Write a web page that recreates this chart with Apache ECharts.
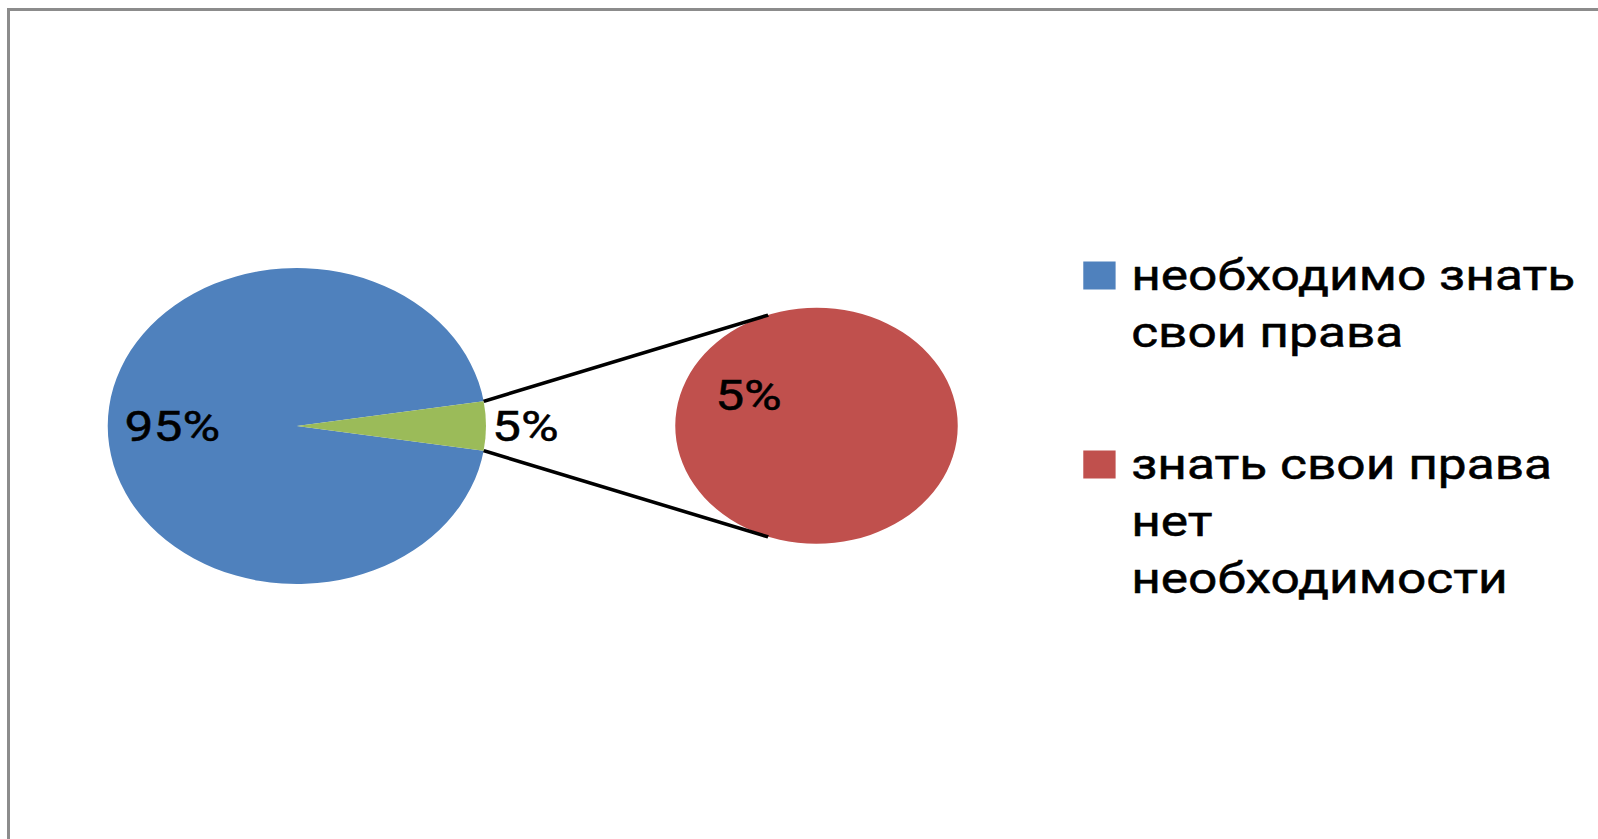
<!DOCTYPE html>
<html>
<head>
<meta charset="utf-8">
<script src="https://cdn.jsdelivr.net/npm/echarts@6/dist/echarts.min.js"></script>
<style>
html, body { margin: 0; padding: 0; background: #fff; overflow: hidden; }
#wrap { position: relative; width: 1598px; height: 839px; overflow: hidden; background: #fff; }
#chart { position: absolute; left: 0; top: 0; width: 1335px; height: 839px; transform: scaleX(1.19700); transform-origin: 0 0; }
#frame { position: absolute; left: 7px; top: 8px; width: 1620px; height: 860px; border-top: 3px solid #8c8c8c; border-left: 3px solid #8c8c8c; box-sizing: border-box; pointer-events: none; }
</style>
</head>
<body>
<div id="wrap"><div id="chart"></div><div id="frame"></div></div>
<script>
// ---- data ----
const categories = ['необходимо знать свои права', 'знать свои права нет необходимости'];
const values = [95, 5];
const legendLines = [['необходимо знать', 'свои права'], ['знать свои права', 'нет', 'необходимости']];
const otherName = 'Другое';
const colors = ['#4F81BD', '#C0504D'];
const otherColor = '#9BBB59';

// ---- layout (unscaled chart coordinates) ----
const C1 = [248, 426], R1 = 158;
const C2 = [682, 426], R2 = 118;
const FONT = 'Roboto';
const FS = 43;
const LH = 57;

const total = values.reduce((a, b) => a + b, 0);
const otherSum = values.slice(1).reduce((a, b) => a + b, 0);
const pct = v => Math.round(v / total * 100) + '%';
const otherFrac = otherSum / total;
const halfAng = otherFrac * Math.PI; // half angle of the "other" slice

// connector tangent lines from the edges of the "other" slice to the second pie
function tangent(sign) {
  const px = C1[0] + R1 * Math.cos(halfAng) - C2[0];
  const py = sign * R1 * Math.sin(halfAng); // y up
  const d = Math.hypot(px, py);
  const phi = Math.atan2(py, px);
  const beta = Math.acos(R2 / d);
  const th = phi - sign * beta;
  return {
    x1: C1[0] + R1 * Math.cos(halfAng), y1: C1[1] - sign * R1 * Math.sin(halfAng),
    x2: C2[0] + R2 * Math.cos(th), y2: C2[1] - R2 * Math.sin(th)
  };
}

const labelBase = { fontFamily: FONT, fontSize: FS, fontWeight: 'normal', color: '#000', textBorderColor: '#000', textBorderWidth: 0.5 };

const chart = echarts.init(document.getElementById('chart'), null, { renderer: 'svg' });
chart.setOption({
  animation: false,
  backgroundColor: '#fff',
  legend: {
    orient: 'vertical',
    left: 905,
    top: 190,
    padding: 0,
    icon: 'rect',
    itemWidth: 27,
    itemHeight: 28,
    itemGap: 189 - 4 * LH,
    selectedMode: false,
    data: categories,
    formatter: n => {
      const lines = legendLines[categories.indexOf(n)];
      return '\n'.repeat(lines.length - 1) + lines.join('\n');
    },
    textStyle: { fontFamily: FONT, fontSize: FS, fontWeight: 'normal', color: '#000', textBorderColor: '#000', textBorderWidth: 0.5, lineHeight: LH, padding: [0, 0, 0, 8] }
  },
  graphic: [tangent(1), tangent(-1)].map(s => ({
    type: 'line', shape: s, z: 10, silent: true,
    style: { stroke: '#000', lineWidth: 3.5 }
  })),
  series: [
    {
      type: 'pie',
      center: C1,
      radius: R1,
      startAngle: 360 - otherFrac * 180,
      clockwise: true,
      avoidLabelOverlap: false,
      silent: true,
      emphasis: { disabled: true },
      data: [
        { name: categories[0], value: values[0], itemStyle: { color: colors[0] },
          label: Object.assign({ show: true, position: 'inside', padding: [0, 44, 0, 0], formatter: p => pct(p.value) }, labelBase) },
        { name: otherName, value: otherSum, itemStyle: { color: otherColor },
          label: Object.assign({ show: true, position: 'outside', alignTo: 'none', distanceToLabelLine: 4, formatter: p => pct(p.value) }, labelBase),
          labelLine: { show: false, length: 1, length2: 0 } }
      ]
    },
    {
      type: 'pie',
      center: C2,
      radius: R2,
      startAngle: 330,
      clockwise: true,
      avoidLabelOverlap: false,
      silent: true,
      emphasis: { disabled: true },
      data: values.slice(1).map((v, i) => ({
        name: categories[i + 1], value: v, itemStyle: { color: colors[i + 1] },
        label: Object.assign({ show: true, position: 'inside', padding: [0, 6, 0, 0], formatter: p => pct(p.value) }, labelBase)
      }))
    }
  ]
});
</script>
</body>
</html>
